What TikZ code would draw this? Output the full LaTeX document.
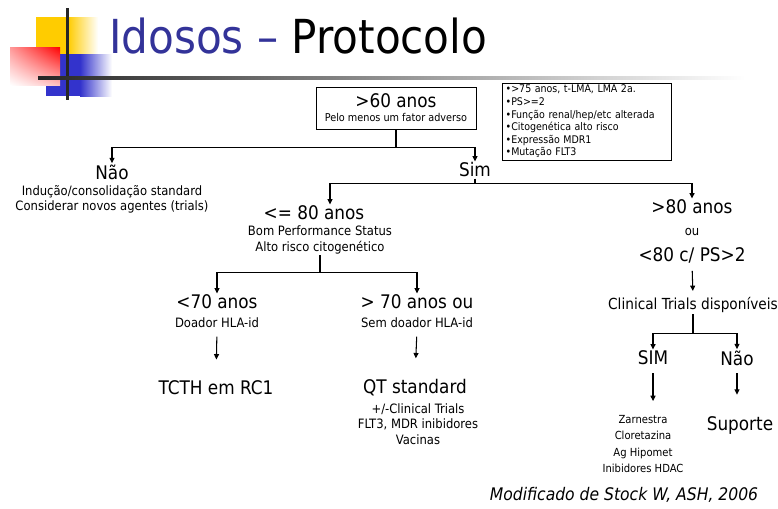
\documentclass[tikz,border=0pt]{standalone}
\usepackage{fontspec}
\setmainfont{DejaVu Sans Condensed}
\usetikzlibrary{arrows.meta,positioning,shadings}
\definecolor{titleblue}{HTML}{333399}
\definecolor{logoyellow}{HTML}{FFCC00}
\definecolor{logoblue}{HTML}{3333CC}

\begin{document}
\begin{tikzpicture}[x=0.3mm, y=-0.3mm,
    big/.style={font=\fontsize{16}{18}\selectfont, inner sep=1pt},
    mid/.style={font=\fontsize{13}{15}\selectfont, inner sep=1pt},
    sub/.style={font=\fontsize{11}{13}\selectfont, align=center, inner sep=1pt},
    note/.style={font=\fontsize{9}{10.75}\selectfont, align=left, draw, line width=0.8pt,
      minimum width=50.7mm, minimum height=23.1mm, text width=48.5mm, inner sep=1pt},
    link/.style={line width=0.9pt},
    arr/.style={link, -{Triangle[length=1.6mm,width=1.5mm]}},
    gap/.style={shorten <=2.2mm, shorten >=6mm}]
  \useasboundingbox (0,0) rectangle (778,508);

  % logo squares and header rules
  \fill[logoyellow] (36,17) rectangle (68,54);
  \shade[left color=logoyellow, right color=white] (68,17) rectangle (98,54);
  \fill[logoblue] (46,54) rectangle (80,96);
  \shade[left color=logoblue, right color=white] (80,54) rectangle (112,96);
  \shade[upper right=red, upper left=red!40, lower left=white, lower right=red!25] (10,47) rectangle (60,85);
  \fill[black!85] (65.5,8) rectangle (68.5,100);
  \shade[left color=black!85, right color=white] (38,76.5) rectangle (745,79.5);
  \node[anchor=base west, inner sep=0, font=\fontsize{40}{40}\selectfont] (title) at (109,53)
    {\textcolor{titleblue}{Idosos –} Protocolo};

  % entrada
  \node[draw, line width=0.8pt, minimum width=48mm, minimum height=12.6mm, align=center, inner sep=1pt] (top) at (396,108)
    {{\fontsize{16}{16}\selectfont >60 anos}\\[0pt]{\fontsize{9.2}{10}\selectfont Pelo menos um fator adverso}};
  \node[note] (fatores) at (586.5,121.5)
    {•>75 anos, t-LMA, LMA 2a.\\ •PS>=2\\ •Função renal/hep/etc alterada\\
     •Citogenética alto risco\\ •Expressão MDR1\\ •Mutação FLT3};

  % primeiro nivel
  \node[big] (nao) at (112,172) {Não};
  \node[sub] (naotxt) at (112,199) {Indução/consolidação standard\\Considerar novos agentes (trials)};
  \node[big] (sim) at (475,170) {Sim};
  \draw[link] (top.south) -- ++(0,18) coordinate (b1);
  \draw[arr] (b1) -| (nao.north);
  \draw[arr] (b1) -| (sim.north);

  % segundo nivel
  \node[big] (ate80) at (314,213) {<= 80 anos};
  \node[sub] (ate80txt) at (320,240) {Bom Performance Status\\Alto risco citogenético};
  \node[big] (mais80) at (692,207) {>80 anos};
  \node[sub] (ou) at (692,232) {ou};
  \node[big] (ps2) at (692,255) {<80 c/ PS>2};
  \draw[link] (sim.south) -- ++(0,5) coordinate (b2);
  \draw[arr] (b2) -| ([xshift=4.8mm]ate80.north);
  \draw[arr] (b2) -| (mais80.north);

  % ramo <= 80
  \node[big] (menos70) at (217,302) {<70 anos};
  \node[sub] (menos70txt) at (217,323) {Doador HLA-id};
  \node[big] (tcth) at (216,388) {TCTH em RC1};
  \node[big] (mais70) at (417,302) {> 70 anos ou};
  \node[sub] (mais70txt) at (417,323) {Sem doador HLA-id};
  \node[big] (qt) at (415,388) {QT standard};
  \node[sub] (qttxt) at (418,424) {+/-Clinical Trials\\FLT3, MDR inibidores\\Vacinas};
  \draw[link] (ate80txt.south) -- ++(0,17) coordinate (b3);
  \draw[arr] (b3) -| (menos70.north);
  \draw[arr] (b3) -| (mais70.north);
  \draw[arr, gap] (menos70txt.south) -- (tcth.north);
  \draw[arr, gap] (mais70txt.south) -- (qt.north);

  % ramo > 80
  \node[mid] (trials) at (693,305) {Clinical Trials disponíveis};
  \node[big] (simtr) at (653,358) {SIM};
  \node[big] (naotr) at (737,358) {Não};
  \node[sub, font=\fontsize{9.5}{13.7}\selectfont] (drogas) at (643,444) {Zarnestra\\Cloretazina\\Ag Hipomet\\Inibidores HDAC};
  \node[big] (suporte) at (740,425) {Suporte};
  \draw[arr, shorten <=2mm, shorten >=1.5mm] (ps2.south) -- (trials.north);
  \draw[link] (trials.south) -- ++(0,19) coordinate (b4);
  \draw[arr] (b4) -| (simtr.north);
  \draw[arr] (b4) -| (naotr.north);
  \draw[arr, shorten <=2mm, shorten >=4mm] (simtr.south) -- (simtr.south |- drogas.north);
  \draw[arr, shorten <=2mm, shorten >=6mm] (naotr.south) -- (naotr.south |- suporte.north);

  % fonte
  \node[font=\fontsize{14.8}{16}\selectfont\itshape, inner sep=0] (fonte) at (624,495) {Modificado de Stock W, ASH, 2006};
\end{tikzpicture}
\end{document}
